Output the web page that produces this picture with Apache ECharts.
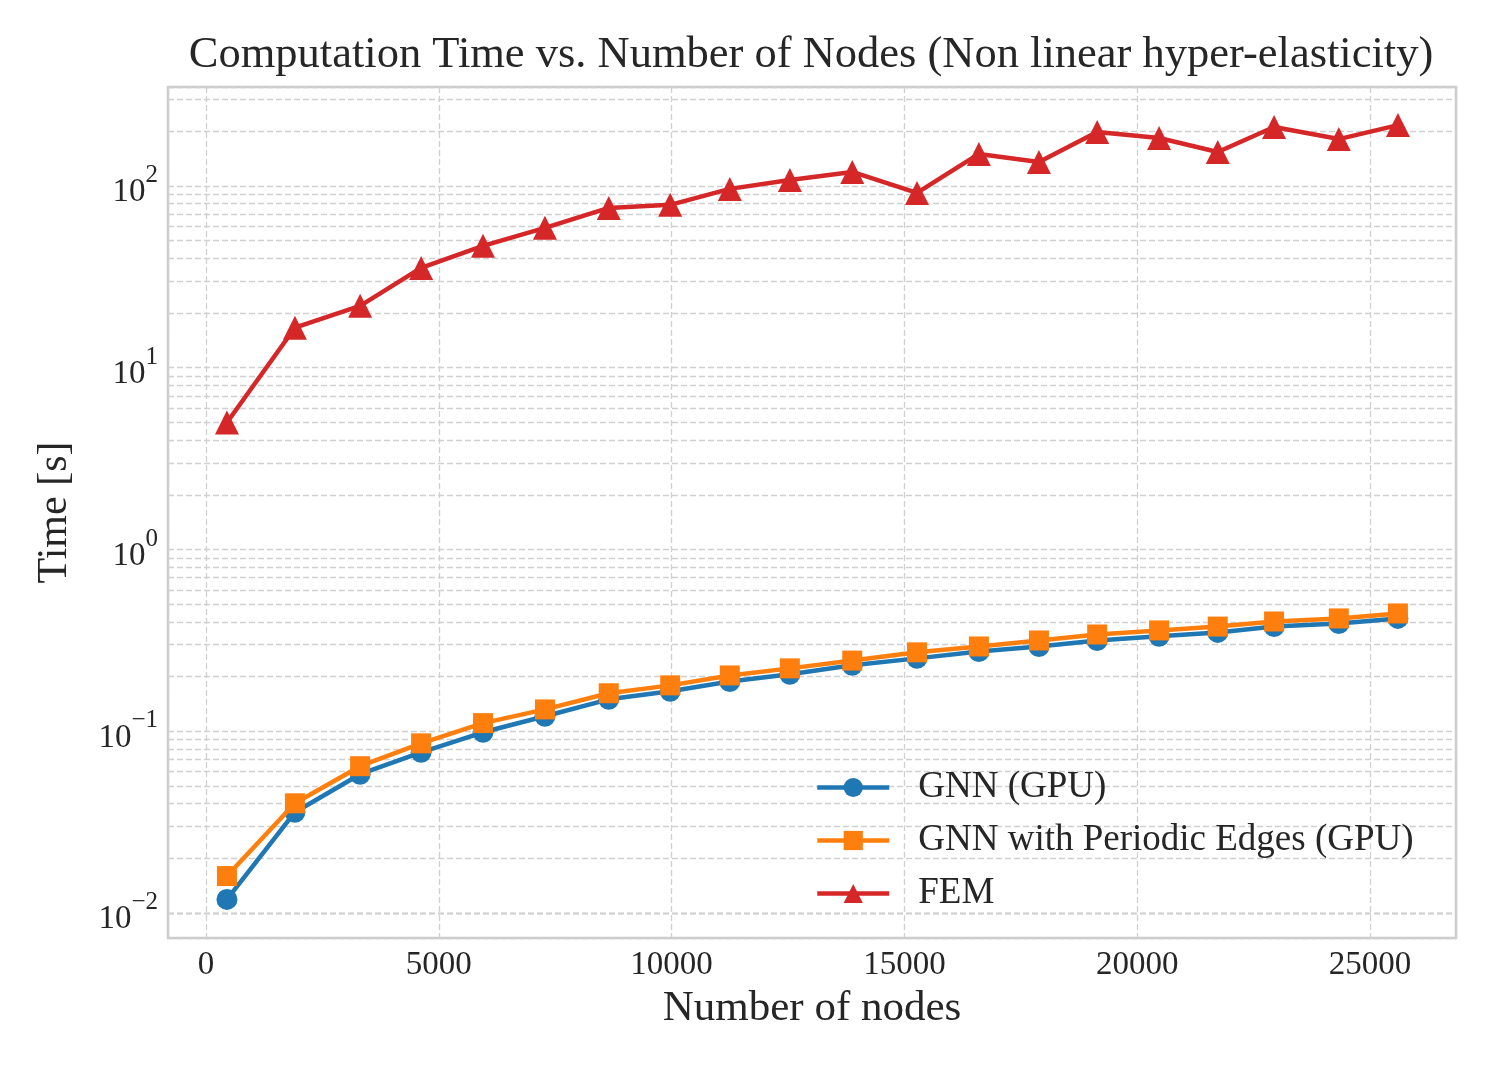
<!DOCTYPE html>
<html>
<head>
<meta charset="utf-8">
<script src="https://cdn.jsdelivr.net/npm/echarts@6/dist/echarts.min.js"></script>
<style>html,body{margin:0;padding:0;background:#fff;}#c{width:1495px;height:1068px;}</style>
</head>
<body>
<div id="c"></div>
<script>
const nodes = [450, 1910, 3310, 4620, 5950, 7280, 8650, 9970, 11250, 12540, 13880, 15270, 16600, 17890, 19140, 20470, 21730, 22940, 24330, 25600];
const gnnGPU = [0.0119, 0.0359, 0.0581, 0.0767, 0.0988, 0.121, 0.150, 0.166, 0.188, 0.206, 0.231, 0.252, 0.275, 0.293, 0.316, 0.333, 0.350, 0.377, 0.392, 0.418];
const gnnPeriodic = [0.0160, 0.0402, 0.0643, 0.0859, 0.111, 0.132, 0.162, 0.179, 0.203, 0.222, 0.245, 0.272, 0.293, 0.316, 0.341, 0.359, 0.377, 0.402, 0.418, 0.445];
const fem = [5.0, 16.6, 21.9, 35.4, 46.8, 58.8, 75.7, 78.7, 96.3, 107.9, 119.4, 91.5, 149.9, 135.5, 198, 183.5, 153.7, 211, 181, 216];
const seriesNames = ['GNN (GPU)', 'GNN with Periodic Edges (GPU)', 'FEM'];
const minorGrid = [0.008, 0.009,
  0.02, 0.03, 0.04, 0.05, 0.06, 0.07, 0.08, 0.09,
  0.2, 0.3, 0.4, 0.5, 0.6, 0.7, 0.8, 0.9,
  2, 3, 4, 5, 6, 7, 8, 9,
  20, 30, 40, 50, 60, 70, 80, 90,
  200, 300];

const FONT = 'Liberation Serif';
const TXT = '#262626';
const GRIDC = '#d0d0d0';
const DASH = [6, 3];

function pairs(ys) { return nodes.map((x, i) => [x, ys[i]]); }

const chart = echarts.init(document.getElementById('c'), null, {renderer: 'canvas'});
chart.setOption({
  animation: false,
  backgroundColor: '#fff',
  title: {
    text: 'Computation Time vs. Number of Nodes (Non linear hyper-elasticity)',
    left: 806, top: 28, textAlign: 'center',
    textStyle: {fontFamily: FONT, fontSize: 44.5, fontWeight: 'normal', color: TXT}
  },
  grid: {left: 168, right: 39, top: 87, bottom: 130, show: true, borderColor: '#cccccc', borderWidth: 2.5, backgroundColor: 'transparent'},
  legend: {
    data: seriesNames,
    orient: 'vertical', left: 815, top: 769, z: 10, padding: 0,
    itemWidth: 72, itemHeight: 24, itemGap: 16,
    lineStyle: {width: 4.5},
    textStyle: {fontFamily: FONT, fontSize: 37, color: TXT, padding: [0, 0, 0, 24], lineHeight: 37}
  },
  xAxis: {
    type: 'value', min: -816, max: 26847, splitNumber: 5,
    name: 'Number of nodes', nameLocation: 'middle', nameGap: 48,
    nameTextStyle: {fontFamily: FONT, fontSize: 43, color: TXT},
    axisLine: {show: false}, axisTick: {show: false},
    axisLabel: {fontFamily: FONT, fontSize: 33, color: TXT, margin: 11,
      formatter: v => (Math.abs(v % 5000) < 1e-6 ? String(v) : '')},
    splitLine: {show: true, lineStyle: {color: GRIDC, type: DASH, width: 1.3}}
  },
  yAxis: {
    type: 'log', min: 0.0073, max: 350, logBase: 10,
    name: 'Time [s]', nameLocation: 'middle', nameGap: 92,
    nameTextStyle: {fontFamily: FONT, fontSize: 42, color: TXT},
    axisLine: {show: false}, axisTick: {show: false},
    axisLabel: {
      margin: 10,
      formatter: function (v) {
        const l = Math.log10(v); const e = Math.round(l);
        if (Math.abs(l - e) > 1e-6) return '';
        const s = e < 0 ? '\u2212' + (-e) : '' + e;
        return '{b|10}{s|' + s + '}';
      },
      rich: {
        b: {fontFamily: FONT, fontSize: 33, color: TXT, verticalAlign: 'bottom', lineHeight: 46},
        s: {fontFamily: FONT, fontSize: 25, color: TXT, verticalAlign: 'top', lineHeight: 25}
      }
    },
    splitLine: {show: true, lineStyle: {color: GRIDC, type: DASH, width: 1.3}}
  },
  series: [
    {
      name: 'minor', type: 'line', data: [], silent: true, z: 1,
      markLine: {
        silent: true, symbol: ['none', 'none'], animation: false, z: 1,
        label: {show: false},
        lineStyle: {color: GRIDC, type: DASH, width: 1.3},
        data: minorGrid.map(v => ({yAxis: v}))
      }
    },
    {
      name: seriesNames[0], type: 'line', data: pairs(gnnGPU), z: 3,
      symbol: 'circle', symbolSize: 21,
      lineStyle: {width: 4.5, color: '#1f77b4'}, itemStyle: {color: '#1f77b4'}
    },
    {
      name: seriesNames[1], type: 'line', data: pairs(gnnPeriodic), z: 4,
      symbol: 'rect', symbolSize: 20,
      lineStyle: {width: 4.5, color: '#ff7f0e'}, itemStyle: {color: '#ff7f0e'}
    },
    {
      name: seriesNames[2], type: 'line', data: pairs(fem), z: 5,
      symbol: 'triangle', symbolSize: 24,
      lineStyle: {width: 4.5, color: '#d62728'}, itemStyle: {color: '#d62728'}
    }
  ]
});
</script>
</body>
</html>
